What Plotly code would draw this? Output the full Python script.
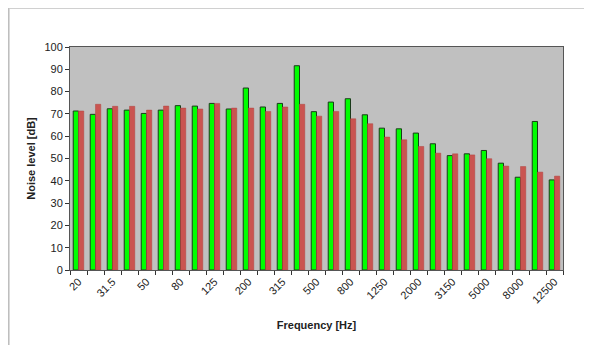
import plotly.graph_objects as go

freqs = ["20", "25", "31.5", "40", "50", "63", "80", "100", "125", "160", "200", "250",
         "315", "400", "500", "630", "800", "1000", "1250", "1600", "2000", "2500",
         "3150", "4000", "5000", "6300", "8000", "10000", "12500"]
green_vals = [71.3, 69.8, 72.3, 71.7, 70.2, 71.7, 73.7, 73.5, 74.7, 72.2, 81.6, 73.1,
              74.7, 91.6, 71.0, 75.3, 76.8, 69.6, 63.6, 63.3, 61.4, 56.6, 51.3, 52.1,
              53.6, 47.9, 41.6, 66.6, 40.4]
red_vals = [71.3, 74.3, 73.4, 73.4, 71.7, 73.5, 72.6, 72.2, 74.7, 72.6, 72.6, 71.1,
            73.1, 74.3, 69.0, 71.1, 67.8, 65.6, 59.6, 58.4, 55.4, 52.4, 52.1, 51.6,
            49.9, 46.6, 46.4, 43.9, 42.1]
y_ticks = [0, 10, 20, 30, 40, 50, 60, 70, 80, 90, 100]

tick_text = [f if i % 2 == 0 else "" for i, f in enumerate(freqs)]

fig = go.Figure()
fig.add_bar(x=freqs, y=green_vals, marker=dict(color="#00FF00", line=dict(color="#1a3a1a", width=1)))
fig.add_bar(x=freqs, y=red_vals, marker=dict(color="#CA5450", line=dict(color="#B04440", width=0.5)))

fig.update_layout(
    width=584, height=337,
    margin=dict(l=62, r=29, t=39, b=75),
    paper_bgcolor="white",
    plot_bgcolor="#C0C0C0",
    showlegend=False,
    barmode="group",
    bargap=0.38,
    bargroupgap=0.0,
    font=dict(family="Liberation Sans, Arial", size=11, color="#222"),
    shapes=[
        dict(type="line", xref="paper", yref="paper", x0=-0.124, x1=-0.124, y0=-0.34, y1=1.175,
             line=dict(color="#999", width=1)),
        dict(type="line", xref="paper", yref="paper", x0=-0.124, x1=1.06, y0=1.173, y1=1.173,
             line=dict(color="#ccc", width=1)),
    ],
)
fig.update_xaxes(
    tickmode="array", tickvals=freqs, ticktext=tick_text, tickangle=-45,
    ticks="outside", ticklen=4, tickcolor="#333", tickson="boundaries",
    showline=True, linecolor="#555", linewidth=1, mirror=True, showgrid=False,
    title=dict(text="<b>Frequency [Hz]</b>", font=dict(size=11), standoff=16),
    tickfont=dict(size=11),
)
fig.update_yaxes(
    range=[0, 100], tickvals=y_ticks, ticks="outside", ticklen=4, tickcolor="#333",
    showline=True, linecolor="#555", linewidth=1, mirror=True, showgrid=False, zeroline=False,
    title=dict(text="<b>Noise level [dB]</b>", font=dict(size=11), standoff=6),
    tickfont=dict(size=11),
)

fig.write_html("out.html")
